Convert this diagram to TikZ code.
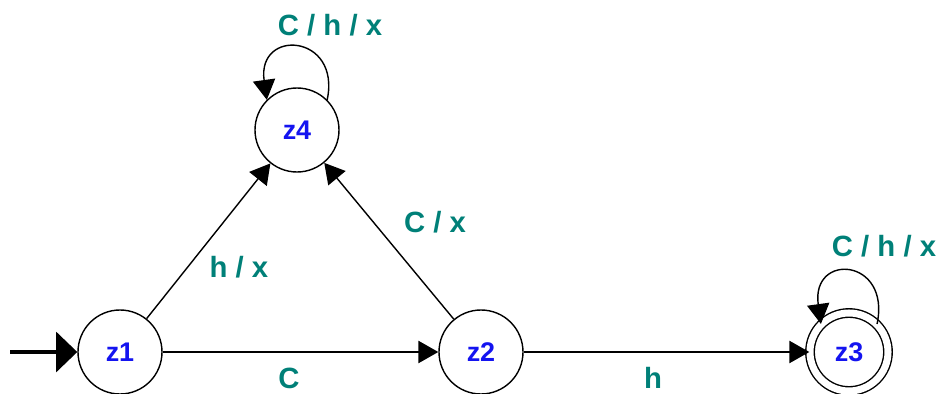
\documentclass[tikz,border=0pt]{standalone}
\usepackage{fontspec}
\setmainfont{Liberation Sans}
\usetikzlibrary{arrows.meta}
\definecolor{stateblue}{RGB}{20,20,240}
\definecolor{labteal}{RGB}{0,128,120}
\tikzset{
  state/.style={circle, draw=black, line width=1.2pt, minimum size=84*0.03cm, inner sep=0pt,
    text=stateblue, font=\fontsize{23}{23}\selectfont\bfseries},
  accepting/.style={state, double=white, double distance=6pt, minimum size=78*0.03cm},
  edge/.style={line width=1.2pt, -{Triangle[length=17pt,width=19pt]}},
  startedge/.style={line width=2.6pt, -{Triangle[length=18pt,width=34pt]}},
  lab/.style={text=labteal, font=\fontsize{25}{25}\selectfont\bfseries, inner sep=0pt}
}
\begin{document}
\begin{tikzpicture}[x=0.03cm,y=-0.03cm]
\useasboundingbox (0,0) rectangle (943,394);
\node[state] (z1) at (120,352) {z1};
\node[state] (z2) at (481,352) {z2};
\node[accepting] (z3) at (849,352) {z3};
\node[state] (z4) at (297,130) {z4};
\coordinate (start) at (10,352);

\draw[startedge] (start) -- (z1);
\draw[edge] (z1) -- (z2);
\draw[edge] (z2) -- (z3);
\draw[edge] (z1) -- (z4);
\draw[edge] (z2) -- (z4);
\draw[edge] (z4.45) .. controls +(14,-66) and +(-10,-72) .. (z4.135);
\draw[edge] (z3.45) .. controls +(14,-66) and +(-10,-72) .. (z3.135);

\node[lab] (l1) at (330,25) {C / h / x};
\node[lab] (l2) at (884,246) {C / h / x};
\node[lab] (l3) at (239,267) {h / x};
\node[lab] (l4) at (435,222) {C / x};
\node[lab] (l5) at (289,378) {C};
\node[lab] (l6) at (653,378) {h};
\end{tikzpicture}
\end{document}
